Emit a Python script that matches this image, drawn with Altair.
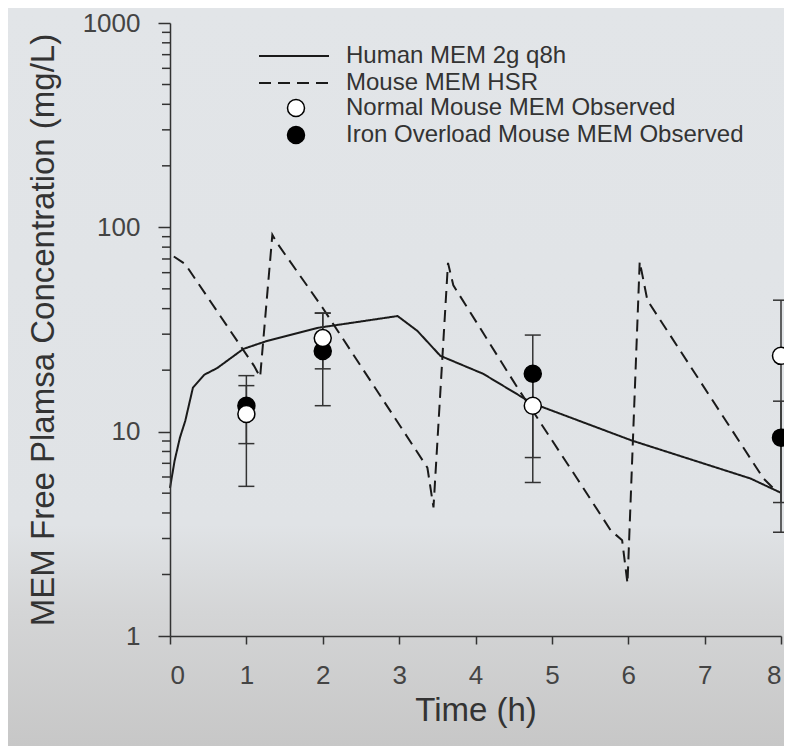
import altair as alt
import pandas as pd

# ---------------- data ----------------
LABEL_HUMAN = "Human MEM 2g q8h"
LABEL_MOUSE = "Mouse MEM HSR"
LABEL_NORMAL = "Normal Mouse MEM Observed"
LABEL_IRON = "Iron Overload Mouse MEM Observed"

human_t = [0.0, 0.06, 0.13, 0.2, 0.3, 0.45, 0.62, 0.96, 1.27, 1.93, 2.98,
           3.24, 3.54, 4.1, 4.63, 4.76, 6.05, 7.6, 7.99]
human_c = [5.3, 7.2, 9.35, 11.3, 16.4, 19.0, 20.5, 25.4, 27.8, 32.2, 36.8,
           31.1, 23.5, 19.2, 14.6, 13.7, 9.04, 5.9, 5.04]

mouse_t = [0.05, 0.2, 1.1, 1.18, 1.34, 1.4, 2.0, 3.37, 3.45, 3.64, 3.71,
           4.55, 5.33, 5.77, 5.92, 5.99, 6.15, 6.25, 7.77, 7.93]
mouse_c = [72.0, 66.0, 21.0, 18.5, 92.0, 84.0, 40.3, 6.67, 4.26, 67.0, 52.0,
           16.4, 5.9, 3.29, 2.94, 1.81, 68.0, 44.0, 5.9, 5.15]

obs_t = [1, 2, 4.75, 8]
normal_mean = [12.2, 28.7, 13.4, 23.5]
normal_lo = [5.4, 20.3, 5.64, 3.22]
normal_hi = [18.8, 38.1, 19.5, 44.0]
iron_mean = [13.4, 24.8, 19.2, 9.35]
iron_lo = [8.74, 13.4, 7.47, 4.5]
iron_hi = [16.8, 38.0, 29.7, 14.1]

x_ticks = [0, 1, 2, 3, 4, 5, 6, 7, 8]
y_major_ticks = [1, 10, 100, 1000]
y_minor_ticks = [2, 3, 4, 5, 6, 7, 8, 9, 20, 30, 40, 50, 60, 70, 80, 90,
                 200, 300, 400, 500, 600, 700, 800, 900]

# ---------------- tables ----------------
lines_df = pd.DataFrame({
    "t": human_t + mouse_t,
    "c": human_c + mouse_c,
    "series": [LABEL_HUMAN] * len(human_t) + [LABEL_MOUSE] * len(mouse_t),
})

# iron rows first so that the open circles are drawn on top
obs_df = pd.DataFrame({
    "t": obs_t + obs_t,
    "mean": iron_mean + normal_mean,
    "lo": iron_lo + normal_lo,
    "hi": iron_hi + normal_hi,
    "group": [LABEL_IRON] * len(obs_t) + [LABEL_NORMAL] * len(obs_t),
})
caps_df = pd.DataFrame({
    "t": obs_t * 4,
    "v": iron_lo + iron_hi + normal_lo + normal_hi,
})
minor_df = pd.DataFrame({"v": y_minor_ticks})

FONT = "Liberation Sans"
INK = "#1a1a1a"
X_TITLE = "Time (h)"
Y_TITLE = "MEM Free Plamsa Concentration (mg/L)"

x_scale = alt.Scale(domain=[0, 8], nice=False, zero=False)
y_scale = alt.Scale(type="log", domain=[1, 1000], nice=False)
x_axis = alt.Axis(values=x_ticks, format="d", title=X_TITLE, zindex=1,
                  tickSize=8, labelPadding=18, titlePadding=6)
y_axis = alt.Axis(values=y_major_ticks, format="d", title=Y_TITLE, zindex=1,
                  tickSize=12, labelPadding=18, titlePadding=22)


def X(field):
    return alt.X(field, scale=x_scale, axis=x_axis, title=X_TITLE)


def Y(field):
    return alt.Y(field, scale=y_scale, axis=y_axis, title=Y_TITLE)


# ---------------- background gradient ----------------
gradient = alt.LinearGradient(
    gradient="linear",
    stops=[
        alt.GradientStop(color="#e2e5e8", offset=0),
        alt.GradientStop(color="#e0e3e6", offset=0.70),
        alt.GradientStop(color="#d4d5d6", offset=0.82),
        alt.GradientStop(color="#c7c7c7", offset=1),
    ],
    x1=0, x2=0, y1=0, y2=1,
)
bg = alt.Chart(pd.DataFrame({"k": [0]})).mark_rect(fill=gradient).encode(
    x=alt.value(-162), x2=alt.value(614), y=alt.value(-15), y2=alt.value(723)
)

# ---------------- model lines ----------------
lines = alt.Chart(lines_df).mark_line(color=INK, strokeWidth=2).encode(
    x=X("t:Q"),
    y=Y("c:Q"),
    strokeDash=alt.StrokeDash(
        "series:N",
        scale=alt.Scale(domain=[LABEL_HUMAN, LABEL_MOUSE], range=[[1, 0], [12, 7]]),
        legend=alt.Legend(
            title=None, orient="none", legendX=112, legendY=21,
            symbolType="M-7,0H7", symbolSize=100, symbolStrokeWidth=2,
            symbolStrokeColor=INK, labelFont=FONT, labelFontSize=24,
            labelColor="#333", labelOffset=40, labelLimit=600,
            rowPadding=3, padding=0,
        ),
    ),
    detail="series:N",
    order="t:Q",
)

# ---------------- minor y ticks ----------------
minor = alt.Chart(minor_df).mark_rule(color="#333", strokeWidth=1.5).encode(
    x=alt.value(-8), x2=alt.value(0),
    y=Y("v:Q"),
)

# ---------------- error bars ----------------
bars = alt.Chart(obs_df).mark_rule(color="#333", strokeWidth=1.5).encode(
    x=X("t:Q"),
    y=Y("lo:Q"),
    y2="hi:Q",
)
caps = alt.Chart(caps_df).mark_tick(
    orient="horizontal", size=16, thickness=1.5, color="#333", opacity=1
).encode(
    x=X("t:Q"),
    y=Y("v:Q"),
)

# ---------------- observed points ----------------
points = alt.Chart(obs_df).mark_point(
    shape="circle", filled=True, size=289, stroke="black", strokeWidth=1.5, opacity=1
).encode(
    x=X("t:Q"),
    y=Y("mean:Q"),
    fill=alt.Fill(
        "group:N",
        scale=alt.Scale(domain=[LABEL_NORMAL, LABEL_IRON], range=["white", "black"]),
        legend=alt.Legend(
            title=None, orient="none", legendX=114, legendY=73,
            symbolType="circle", symbolSize=289, symbolStrokeColor="black",
            symbolStrokeWidth=1.5, labelFont=FONT, labelFontSize=24,
            labelColor="#333", labelOffset=38, labelLimit=600,
            rowPadding=3, padding=0,
        ),
    ),
)

chart = alt.layer(bg, lines, minor, bars, caps, points).properties(
    width=611,
    height=613,
    padding={"left": 162, "top": 15, "right": 3, "bottom": 110},
    autosize=alt.AutoSizeParams(type="none"),
    background="#e0e3e6",
).configure_view(stroke=None).configure_axis(
    grid=False,
    domainColor="#333", domainWidth=1.5,
    tickColor="#333", tickWidth=1.5,
    labelFont=FONT, labelFontSize=26, labelColor="#444",
    titleFont=FONT, titleFontSize=33, titleFontWeight="normal", titleColor="#333",
)

chart.save("out.html", embed_options={"renderer": "svg", "actions": False})
